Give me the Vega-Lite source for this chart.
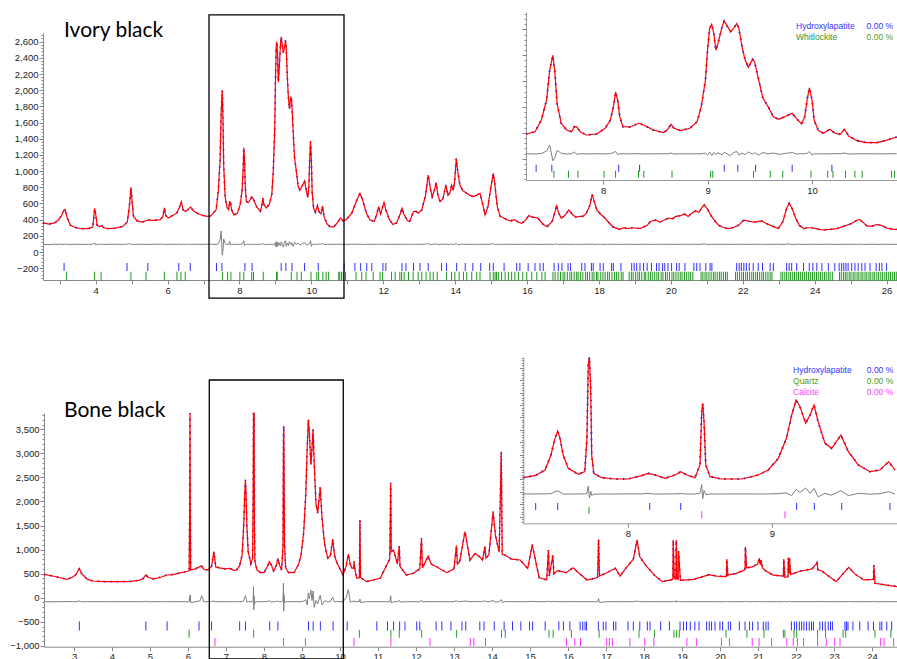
{
"$schema": "https://vega.github.io/schema/vega-lite/v6.json",
"width": 897, "height": 659, "padding": 0, "autosize": {"type": "none"}, "background": "white",
"config": {"view": {"stroke": null}, "axis": {"labelFont": "Liberation Sans", "labelFontSize": 9.5, "labelColor": "#222", "tickColor": "#888", "domainColor": "#888", "grid": false, "labelPadding": 1, "labelOverlap": false, "labelFlush": false}},
"datasets": {
"top": [
{"x":2.534,"y":360,"d":95},{"x":2.7,"y":345,"d":92},{"x":2.85,"y":360,"d":96},{"x":2.95,"y":390,"d":94},{"x":3.05,"y":450,"d":97},{"x":3.12,"y":520,"d":92},{"x":3.15,"y":527,"d":100},{"x":3.2,"y":430,"d":95},{"x":3.3,"y":330,"d":93},{"x":3.45,"y":300,"d":96},{"x":3.6,"y":288,"d":94},{"x":3.8,"y":290,"d":95},{"x":3.92,"y":310,"d":97},{"x":3.97,"y":540,"d":110},{"x":4.0,"y":470,"d":88},{"x":4.04,"y":330,"d":95},{"x":4.1,"y":315,"d":94},{"x":4.17,"y":325,"d":98},{"x":4.22,"y":300,"d":93},{"x":4.35,"y":288,"d":95},{"x":4.55,"y":295,"d":96},{"x":4.75,"y":315,"d":94},{"x":4.88,"y":370,"d":97},{"x":4.95,"y":620,"d":105},{"x":4.98,"y":800,"d":90},{"x":5.01,"y":640,"d":100},{"x":5.05,"y":440,"d":94},{"x":5.15,"y":385,"d":95},{"x":5.3,"y":370,"d":96},{"x":5.45,"y":395,"d":94},{"x":5.6,"y":392,"d":95},{"x":5.8,"y":400,"d":97},{"x":5.87,"y":440,"d":93},{"x":5.91,"y":545,"d":100},{"x":5.95,"y":450,"d":92},{"x":6.02,"y":420,"d":95},{"x":6.15,"y":455,"d":96},{"x":6.25,"y":480,"d":94},{"x":6.32,"y":540,"d":98},{"x":6.38,"y":620,"d":92},{"x":6.43,"y":520,"d":96},{"x":6.5,"y":500,"d":95},{"x":6.58,"y":530,"d":97},{"x":6.64,"y":555,"d":93},{"x":6.72,"y":510,"d":96},{"x":6.82,"y":478,"d":95},{"x":6.95,"y":455,"d":94},{"x":7.1,"y":440,"d":96},{"x":7.2,"y":445,"d":95},
{"x":7.263,"y":478,"d":97},{"x":7.35,"y":522,"d":92},{"x":7.41,"y":749,"d":100},{"x":7.46,"y":1136,"d":150},{"x":7.49,"y":1716,"d":260},{"x":7.52,"y":2000,"d":-40},{"x":7.54,"y":1652,"d":20},{"x":7.56,"y":1072,"d":160},{"x":7.6,"y":685,"d":105},{"x":7.65,"y":556,"d":90},{"x":7.7,"y":522,"d":96},{"x":7.725,"y":620,"d":130},{"x":7.75,"y":615,"d":85},{"x":7.78,"y":522,"d":95},{"x":7.84,"y":459,"d":93},{"x":7.94,"y":478,"d":96},{"x":8.02,"y":588,"d":94},{"x":8.07,"y":749,"d":98},{"x":8.1,"y":1006,"d":120},{"x":8.12,"y":1290,"d":140},{"x":8.14,"y":1136,"d":80},{"x":8.16,"y":813,"d":95},{"x":8.19,"y":620,"d":96},{"x":8.26,"y":613,"d":94},{"x":8.34,"y":685,"d":97},{"x":8.39,"y":652,"d":93},{"x":8.48,"y":556,"d":95},{"x":8.58,"y":505,"d":96},{"x":8.62,"y":569,"d":94},{"x":8.65,"y":665,"d":110},{"x":8.68,"y":588,"d":90},{"x":8.74,"y":543,"d":95},{"x":8.83,"y":588,"d":94},{"x":8.9,"y":717,"d":96},{"x":8.94,"y":1006,"d":93},{"x":8.98,"y":1522,"d":110},{"x":9.0,"y":2103,"d":70},{"x":9.02,"y":2522,"d":130},{"x":9.04,"y":2600,"d":60},{"x":9.06,"y":2425,"d":120},{"x":9.08,"y":2100,"d":80},{"x":9.1,"y":2232,"d":115},{"x":9.14,"y":2560,"d":75},{"x":9.16,"y":2660,"d":125},{"x":9.19,"y":2560,"d":90},{"x":9.22,"y":2460,"d":60},{"x":9.25,"y":2522,"d":120},{"x":9.28,"y":2615,"d":140},{"x":9.3,"y":2522,"d":70},{"x":9.33,"y":2166,"d":110},{"x":9.36,"y":1909,"d":80},{"x":9.39,"y":1768,"d":130},{"x":9.43,"y":1922,"d":90},{"x":9.45,"y":1877,"d":115},{"x":9.49,"y":1522,"d":70},{"x":9.53,"y":1168,"d":120},{"x":9.58,"y":1006,"d":95},{"x":9.63,"y":813,"d":110},{"x":9.68,"y":762,"d":85},{"x":9.74,"y":813,"d":100},{"x":9.81,"y":878,"d":120},{"x":9.85,"y":781,"d":90},{"x":9.9,"y":672,"d":95},{"x":9.93,"y":813,"d":96},{"x":9.955,"y":1168,"d":105},{"x":9.975,"y":1370,"d":140},{"x":10.0,"y":1136,"d":70},{"x":10.02,"y":749,"d":95},{"x":10.06,"y":543,"d":94},{"x":10.11,"y":492,"d":96},{"x":10.17,"y":569,"d":94},{"x":10.22,"y":492,"d":100},{"x":10.27,"y":472,"d":95},{"x":10.31,"y":569,"d":110},{"x":10.35,"y":440,"d":90},{"x":10.43,"y":349,"d":95},{"x":10.52,"y":311,"d":96},{"x":10.62,"y":311,"d":94},{"x":10.7,"y":349,"d":95},{"x":10.81,"y":420,"d":96},
{"x":10.88,"y":385,"d":95},{"x":10.97,"y":400,"d":94},{"x":11.12,"y":478,"d":96},{"x":11.27,"y":650,"d":95},{"x":11.35,"y":726,"d":97},{"x":11.42,"y":650,"d":93},{"x":11.53,"y":480,"d":95},{"x":11.63,"y":395,"d":96},{"x":11.75,"y":380,"d":94},{"x":11.82,"y":470,"d":95},{"x":11.87,"y":560,"d":98},{"x":11.92,"y":470,"d":93},{"x":11.97,"y":540,"d":96},{"x":12.02,"y":615,"d":97},{"x":12.07,"y":520,"d":94},{"x":12.17,"y":400,"d":95},{"x":12.27,"y":340,"d":96},{"x":12.37,"y":360,"d":94},{"x":12.47,"y":470,"d":95},{"x":12.52,"y":540,"d":97},{"x":12.57,"y":470,"d":94},{"x":12.67,"y":390,"d":95},{"x":12.73,"y":375,"d":96},{"x":12.84,"y":498,"d":94},{"x":12.9,"y":505,"d":95},{"x":12.97,"y":480,"d":96},{"x":13.07,"y":520,"d":94},{"x":13.17,"y":690,"d":97},{"x":13.25,"y":952,"d":105},{"x":13.31,"y":780,"d":90},{"x":13.36,"y":684,"d":95},{"x":13.42,"y":760,"d":96},{"x":13.47,"y":857,"d":100},{"x":13.52,"y":700,"d":92},{"x":13.58,"y":622,"d":95},{"x":13.66,"y":660,"d":96},{"x":13.74,"y":828,"d":97},{"x":13.8,"y":700,"d":93},{"x":13.86,"y":740,"d":95},{"x":13.9,"y":828,"d":97},{"x":13.95,"y":760,"d":94},{"x":13.99,"y":900,"d":96},{"x":14.03,"y":1158,"d":108},{"x":14.07,"y":1000,"d":88},{"x":14.13,"y":828,"d":95},{"x":14.21,"y":760,"d":96},{"x":14.32,"y":725,"d":94},{"x":14.41,"y":700,"d":95},{"x":14.51,"y":684,"d":96},{"x":14.59,"y":700,"d":94},{"x":14.69,"y":725,"d":95},{"x":14.76,"y":600,"d":96},{"x":14.83,"y":457,"d":94},{"x":14.91,"y":560,"d":95},{"x":15.0,"y":820,"d":98},{"x":15.06,"y":973,"d":104},{"x":15.1,"y":850,"d":90},{"x":15.17,"y":560,"d":95},{"x":15.25,"y":440,"d":96},{"x":15.35,"y":420,"d":94},{"x":15.45,"y":395,"d":95},{"x":15.55,"y":385,"d":96},{"x":15.65,"y":400,"d":94},{"x":15.75,"y":370,"d":95},{"x":15.85,"y":354,"d":96},{"x":15.95,"y":390,"d":94},{"x":16.05,"y":450,"d":95},{"x":16.15,"y":430,"d":96},{"x":16.3,"y":420,"d":94},{"x":16.45,"y":340,"d":95},{"x":16.56,"y":313,"d":96},{"x":16.7,"y":380,"d":94},{"x":16.79,"y":520,"d":97},{"x":16.82,"y":581,"d":100},{"x":16.87,"y":490,"d":92},{"x":16.95,"y":420,"d":95},{"x":17.05,"y":450,"d":96},{"x":17.16,"y":520,"d":94},{"x":17.25,"y":470,"d":95},{"x":17.35,"y":430,"d":96},{"x":17.46,"y":440,"d":94},{"x":17.55,"y":440,"d":95},{"x":17.65,"y":480,"d":96},{"x":17.75,"y":580,"d":94},{"x":17.81,"y":713,"d":100},{"x":17.87,"y":620,"d":92},{"x":17.94,"y":520,"d":95},{"x":18.04,"y":470,"d":96},{"x":18.14,"y":430,"d":94},{"x":18.24,"y":380,"d":95},{"x":18.39,"y":310,"d":96},{"x":18.57,"y":281,"d":94},{"x":18.69,"y":300,"d":95},{"x":18.79,"y":290,"d":96},{"x":18.94,"y":300,"d":94},{"x":19.14,"y":290,"d":95},{"x":19.34,"y":330,"d":96},{"x":19.44,"y":380,"d":94},{"x":19.58,"y":395,"d":95},{"x":19.69,"y":370,"d":96},{"x":19.79,"y":390,"d":94},{"x":19.94,"y":420,"d":95},{"x":20.04,"y":410,"d":96},{"x":20.14,"y":440,"d":94},{"x":20.27,"y":450,"d":95},{"x":20.38,"y":470,"d":96},{"x":20.48,"y":440,"d":94},{"x":20.58,"y":480,"d":95},{"x":20.68,"y":507,"d":96},{"x":20.78,"y":490,"d":94},{"x":20.88,"y":560,"d":97},{"x":20.93,"y":581,"d":100},{"x":21.03,"y":520,"d":93},{"x":21.13,"y":440,"d":95},{"x":21.23,"y":380,"d":96},{"x":21.33,"y":330,"d":94},{"x":21.48,"y":300,"d":95},{"x":21.59,"y":290,"d":96},{"x":21.73,"y":300,"d":94},{"x":21.88,"y":330,"d":95},{"x":22.03,"y":395,"d":96},{"x":22.17,"y":380,"d":94},{"x":22.32,"y":370,"d":95},{"x":22.52,"y":385,"d":96},{"x":22.67,"y":350,"d":94},{"x":22.82,"y":320,"d":95},{"x":22.99,"y":290,"d":96},{"x":23.12,"y":380,"d":94},{"x":23.22,"y":540,"d":97},{"x":23.29,"y":602,"d":100},{"x":23.37,"y":540,"d":93},{"x":23.47,"y":420,"d":95},{"x":23.57,"y":330,"d":96},{"x":23.7,"y":290,"d":94},{"x":23.82,"y":300,"d":95},{"x":23.92,"y":300,"d":96},{"x":24.07,"y":285,"d":94},{"x":24.2,"y":272,"d":95},{"x":24.42,"y":280,"d":96},{"x":24.62,"y":290,"d":94},{"x":24.82,"y":320,"d":95},{"x":25.01,"y":350,"d":96},{"x":25.16,"y":390,"d":94},{"x":25.25,"y":404,"d":97},{"x":25.36,"y":360,"d":93},{"x":25.46,"y":320,"d":95},{"x":25.61,"y":320,"d":96},{"x":25.71,"y":340,"d":94},{"x":25.86,"y":330,"d":95},{"x":26.01,"y":295,"d":96},{"x":26.2,"y":280,"d":94},{"x":26.29,"y":280,"d":95}
],
"bot": [
{"x":2.21,"y":486,"d":-83},{"x":2.5,"y":440,"d":-85},{"x":2.81,"y":382,"d":-80},{"x":2.95,"y":420,"d":-84},{"x":3.05,"y":480,"d":-82},{"x":3.14,"y":611,"d":-70},{"x":3.2,"y":500,"d":-86},{"x":3.35,"y":380,"d":-83},{"x":3.5,"y":347,"d":-82},{"x":3.8,"y":333,"d":-84},{"x":4.2,"y":333,"d":-83},{"x":4.5,"y":340,"d":-82},{"x":4.7,"y":360,"d":-84},{"x":4.82,"y":400,"d":-83},{"x":4.89,"y":472,"d":-75},{"x":4.96,"y":420,"d":-86},{"x":5.1,"y":390,"d":-83},{"x":5.3,"y":430,"d":-82},{"x":5.44,"y":472,"d":-84},{"x":5.6,"y":480,"d":-83},{"x":5.82,"y":520,"d":-82},{"x":5.94,"y":540,"d":-84},{"x":6.03,"y":561,"d":-83},{"x":6.045,"y":1900,"d":20},{"x":6.052,"y":3860,"d":-40},{"x":6.06,"y":1900,"d":60},{"x":6.07,"y":580,"d":-100},{"x":6.2,"y":600,"d":-83},{"x":6.31,"y":645,"d":-70},{"x":6.36,"y":660,"d":40},{"x":6.42,"y":590,"d":-90},{"x":6.53,"y":580,"d":-83},{"x":6.62,"y":650,"d":-80},{"x":6.68,"y":957,"d":-70},{"x":6.73,"y":640,"d":-85},{"x":6.83,"y":620,"d":-83},{"x":6.98,"y":600,"d":-82},{"x":7.1,"y":610,"d":-84},{"x":7.2,"y":570,"d":-83},
{"x":7.273,"y":574,"d":-82},{"x":7.354,"y":655,"d":-84},{"x":7.424,"y":883,"d":-80},{"x":7.465,"y":1488,"d":-70},{"x":7.493,"y":2160,"d":10},{"x":7.512,"y":2450,"d":40},{"x":7.528,"y":2160,"d":-10},{"x":7.55,"y":1488,"d":-90},{"x":7.585,"y":950,"d":-85},{"x":7.655,"y":708,"d":-83},{"x":7.7,"y":816,"d":-80},{"x":7.715,"y":2160,"d":-60},{"x":7.724,"y":5117,"d":230},{"x":7.732,"y":6500,"d":-250},{"x":7.741,"y":4176,"d":30},{"x":7.748,"y":1488,"d":-140},{"x":7.762,"y":749,"d":-95},{"x":7.817,"y":574,"d":-83},{"x":7.91,"y":520,"d":-84},{"x":8.0,"y":520,"d":-82},{"x":8.095,"y":655,"d":-80},{"x":8.14,"y":749,"d":-60},{"x":8.19,"y":682,"d":-90},{"x":8.257,"y":547,"d":-83},{"x":8.326,"y":682,"d":-80},{"x":8.366,"y":816,"d":-70},{"x":8.408,"y":682,"d":-85},{"x":8.465,"y":574,"d":-83},{"x":8.5,"y":1085,"d":-60},{"x":8.512,"y":3235,"d":300},{"x":8.519,"y":3571,"d":-280},{"x":8.528,"y":2832,"d":60},{"x":8.54,"y":1085,"d":-110},{"x":8.57,"y":614,"d":-84},{"x":8.65,"y":520,"d":-83},{"x":8.79,"y":520,"d":-82},{"x":8.905,"y":682,"d":-84},{"x":8.974,"y":883,"d":-83},{"x":9.044,"y":1354,"d":-70},{"x":9.1,"y":2160,"d":-40},{"x":9.137,"y":3101,"d":-150},{"x":9.167,"y":3706,"d":100},{"x":9.194,"y":3437,"d":-20},{"x":9.234,"y":2765,"d":160},{"x":9.264,"y":3101,"d":-60},{"x":9.292,"y":3504,"d":140},{"x":9.32,"y":2832,"d":-200},{"x":9.368,"y":1958,"d":-60},{"x":9.414,"y":1757,"d":-130},{"x":9.479,"y":2294,"d":50},{"x":9.53,"y":1622,"d":-150},{"x":9.6,"y":1085,"d":-60},{"x":9.68,"y":816,"d":-90},{"x":9.75,"y":883,"d":-75},{"x":9.81,"y":1219,"d":10},{"x":9.854,"y":883,"d":-90},
{"x":9.91,"y":741,"d":-80},{"x":10.08,"y":472,"d":-84},{"x":10.16,"y":650,"d":0},{"x":10.22,"y":908,"d":170},{"x":10.27,"y":700,"d":-90},{"x":10.31,"y":617,"d":-83},{"x":10.36,"y":620,"d":-82},{"x":10.37,"y":750,"d":-60},{"x":10.39,"y":600,"d":-85},{"x":10.44,"y":403,"d":-83},{"x":10.51,"y":420,"d":-82},{"x":10.525,"y":1615,"d":-30},{"x":10.54,"y":420,"d":-100},{"x":10.7,"y":333,"d":-83},{"x":11.06,"y":403,"d":-82},{"x":11.23,"y":680,"d":-84},{"x":11.31,"y":800,"d":-80},{"x":11.335,"y":2391,"d":40},{"x":11.35,"y":950,"d":-110},{"x":11.41,"y":991,"d":-83},{"x":11.51,"y":700,"d":-82},{"x":11.56,"y":1075,"d":-60},{"x":11.58,"y":650,"d":-90},{"x":11.75,"y":472,"d":-83},{"x":11.93,"y":507,"d":-82},{"x":12.1,"y":600,"d":-84},{"x":12.145,"y":1235,"d":-50},{"x":12.17,"y":620,"d":-90},{"x":12.32,"y":868,"d":-80},{"x":12.4,"y":700,"d":-83},{"x":12.54,"y":644,"d":-82},{"x":12.81,"y":520,"d":-84},{"x":13.0,"y":600,"d":-83},{"x":13.065,"y":1082,"d":-60},{"x":13.09,"y":700,"d":-85},{"x":13.15,"y":750,"d":-82},{"x":13.29,"y":1373,"d":-70},{"x":13.42,"y":784,"d":-84},{"x":13.56,"y":923,"d":-80},{"x":13.67,"y":853,"d":-83},{"x":13.75,"y":780,"d":-82},{"x":13.815,"y":1061,"d":-60},{"x":13.84,"y":820,"d":-85},{"x":13.92,"y":900,"d":-83},{"x":14.03,"y":1788,"d":-60},{"x":14.09,"y":1300,"d":-90},{"x":14.19,"y":950,"d":-83},{"x":14.245,"y":3036,"d":-40},{"x":14.27,"y":900,"d":-100},{"x":14.34,"y":888,"d":-83},{"x":14.52,"y":800,"d":-82},{"x":14.74,"y":784,"d":-84},{"x":14.94,"y":610,"d":-83},{"x":15.06,"y":1100,"d":-75},{"x":15.24,"y":420,"d":-84},{"x":15.44,"y":368,"d":-83},{"x":15.485,"y":991,"d":-70},{"x":15.51,"y":450,"d":-85},{"x":15.6,"y":880,"d":-75},{"x":15.63,"y":500,"d":-83},{"x":15.73,"y":560,"d":-82},{"x":15.95,"y":520,"d":-84},{"x":16.06,"y":580,"d":-83},{"x":16.13,"y":620,"d":-80},{"x":16.28,"y":520,"d":-83},{"x":16.5,"y":368,"d":-82},{"x":16.78,"y":420,"d":-84},{"x":16.805,"y":1214,"d":-20},{"x":16.83,"y":450,"d":-100},{"x":17.02,"y":520,"d":-83},{"x":17.25,"y":611,"d":-82},{"x":17.37,"y":450,"d":-84},{"x":17.54,"y":632,"d":-83},{"x":17.72,"y":800,"d":-82},{"x":17.82,"y":1200,"d":-70},{"x":17.89,"y":850,"d":-84},{"x":18.06,"y":660,"d":-83},{"x":18.26,"y":480,"d":-82},{"x":18.48,"y":333,"d":-84},{"x":18.76,"y":380,"d":-83},{"x":18.77,"y":1200,"d":-70},{"x":18.8,"y":400,"d":-84},{"x":18.84,"y":380,"d":-83},{"x":18.85,"y":1200,"d":-60},{"x":18.87,"y":400,"d":-95},{"x":18.9,"y":380,"d":-83},{"x":18.91,"y":970,"d":-75},{"x":18.96,"y":360,"d":-84},{"x":19.31,"y":380,"d":-83},{"x":19.72,"y":480,"d":-82},{"x":19.91,"y":450,"d":-84},{"x":20.17,"y":440,"d":-83},{"x":20.18,"y":805,"d":-75},{"x":20.21,"y":470,"d":-84},{"x":20.41,"y":500,"d":-83},{"x":20.66,"y":580,"d":-82},{"x":20.67,"y":1060,"d":-70},{"x":20.7,"y":620,"d":-84},{"x":20.85,"y":640,"d":-83},{"x":20.99,"y":700,"d":-82},{"x":21.04,"y":820,"d":-80},{"x":21.06,"y":680,"d":-84},{"x":21.08,"y":780,"d":-82},{"x":21.12,"y":620,"d":-83},{"x":21.2,"y":560,"d":-82},{"x":21.4,"y":470,"d":-84},{"x":21.67,"y":450,"d":-83},{"x":21.68,"y":805,"d":-75},{"x":21.71,"y":420,"d":-84},{"x":21.79,"y":440,"d":-83},{"x":21.8,"y":830,"d":-75},{"x":21.815,"y":500,"d":-84},{"x":21.83,"y":830,"d":-75},{"x":21.86,"y":480,"d":-83},{"x":22.1,"y":550,"d":-82},{"x":22.43,"y":600,"d":-84},{"x":22.555,"y":728,"d":-78},{"x":22.58,"y":580,"d":-83},{"x":22.69,"y":550,"d":-82},{"x":23.06,"y":333,"d":-84},{"x":23.24,"y":500,"d":-83},{"x":23.39,"y":632,"d":-80},{"x":23.54,"y":500,"d":-84},{"x":23.79,"y":370,"d":-83},{"x":24.04,"y":380,"d":-82},{"x":24.05,"y":680,"d":-75},{"x":24.08,"y":300,"d":-84},{"x":24.38,"y":263,"d":-83},{"x":24.66,"y":230,"d":-82}
],
"topHA": [{"x":3.12},{"x":4.87},{"x":5.45},{"x":6.31},{"x":6.63},{"x":7.36},{"x":7.51},{"x":8.15},{"x":8.35},{"x":9.16},{"x":9.29},{"x":9.46},{"x":9.81},{"x":10.19},{"x":10.91},{"x":11.21},{"x":11.37},{"x":11.54},{"x":11.68},{"x":11.99},{"x":12.07},{"x":12.52},{"x":12.63},{"x":12.84},{"x":13.02},{"x":13.25},{"x":13.62},{"x":13.76},{"x":14.04},{"x":14.28},{"x":14.49},{"x":14.71},{"x":14.96},{"x":15.06},{"x":15.36},{"x":15.71},{"x":15.8},{"x":16.03},{"x":16.22},{"x":16.36},{"x":16.45},{"x":16.75},{"x":16.87},{"x":16.97},{"x":17.14},{"x":17.21},{"x":17.52},{"x":17.61},{"x":17.79},{"x":17.84},{"x":18.03},{"x":18.12},{"x":18.35},{"x":18.4},{"x":18.61},{"x":18.91},{"x":18.98},{"x":19.05},{"x":19.14},{"x":19.24},{"x":19.34},{"x":19.46},{"x":19.6},{"x":19.67},{"x":19.77},{"x":19.83},{"x":19.92},{"x":20.02},{"x":20.16},{"x":20.23},{"x":20.39},{"x":20.64},{"x":20.72},{"x":20.81},{"x":20.97},{"x":21.09},{"x":21.14},{"x":21.83},{"x":21.9},{"x":21.96},{"x":22.03},{"x":22.1},{"x":22.18},{"x":22.29},{"x":22.43},{"x":22.55},{"x":22.76},{"x":22.85},{"x":23.22},{"x":23.29},{"x":23.36},{"x":23.5},{"x":23.69},{"x":23.85},{"x":23.95},{"x":24.06},{"x":24.2},{"x":24.38},{"x":24.56},{"x":24.68},{"x":24.75},{"x":24.81},{"x":24.87},{"x":24.93},{"x":25.03},{"x":25.12},{"x":25.21},{"x":25.31},{"x":25.4},{"x":25.54},{"x":25.71},{"x":25.8},{"x":25.87},{"x":26.0}],
"topW": [{"x":3.19},{"x":3.97},{"x":4.15},{"x":4.98},{"x":5.4},{"x":5.91},{"x":6.26},{"x":6.37},{"x":6.49},{"x":7.53},{"x":7.67},{"x":7.76},{"x":8.01},{"x":8.12},{"x":8.34},{"x":8.39},{"x":8.66},{"x":9.03},{"x":9.05},{"x":9.44},{"x":9.6},{"x":9.72},{"x":9.99},{"x":10.15},{"x":10.2},{"x":10.32},{"x":10.41},{"x":10.48},{"x":10.76},{"x":10.79},{"x":10.84},{"x":10.89},{"x":10.95},{"x":11.24},{"x":11.4},{"x":11.52},{"x":11.72},{"x":11.91},{"x":11.98},{"x":12.23},{"x":12.33},{"x":12.46},{"x":12.51},{"x":12.58},{"x":12.7},{"x":12.83},{"x":12.97},{"x":13.07},{"x":13.19},{"x":13.3},{"x":13.39},{"x":13.5},{"x":13.76},{"x":13.9},{"x":13.99},{"x":14.11},{"x":14.23},{"x":14.32},{"x":14.46},{"x":14.6},{"x":14.69},{"x":14.97},{"x":15.06},{"x":15.11},{"x":15.15},{"x":15.2},{"x":15.29},{"x":15.39},{"x":15.48},{"x":15.57},{"x":15.66},{"x":15.76},{"x":15.88},{"x":15.99},{"x":16.13},{"x":16.27},{"x":16.41},{"x":16.5},{"x":16.72},{"x":16.78},{"x":16.86},{"x":16.93},{"x":17.0},{"x":17.05},{"x":17.12},{"x":17.19},{"x":17.24},{"x":17.31},{"x":17.38},{"x":17.42},{"x":17.49},{"x":17.55},{"x":17.63},{"x":17.68},{"x":17.74},{"x":17.81},{"x":17.86},{"x":17.93},{"x":17.97},{"x":18.05},{"x":18.11},{"x":18.17},{"x":18.24},{"x":18.29},{"x":18.36},{"x":18.43},{"x":18.49},{"x":18.55},{"x":18.62},{"x":18.67},{"x":18.84},{"x":18.9},{"x":18.95},{"x":19.02},{"x":19.08},{"x":19.13},{"x":19.19},{"x":19.26},{"x":19.3},{"x":19.37},{"x":19.43},{"x":19.48},{"x":19.55},{"x":19.61},{"x":19.66},{"x":19.73},{"x":19.78},{"x":19.85},{"x":19.9},{"x":19.96},{"x":20.03},{"x":20.08},{"x":20.14},{"x":20.2},{"x":20.26},{"x":20.31},{"x":20.38},{"x":20.44},{"x":20.5},{"x":20.55},{"x":20.61},{"x":20.84},{"x":20.89},{"x":20.95},{"x":21.0},{"x":21.06},{"x":21.12},{"x":21.18},{"x":21.23},{"x":21.29},{"x":21.35},{"x":21.4},{"x":21.46},{"x":21.52},{"x":21.57},{"x":21.8},{"x":21.85},{"x":21.91},{"x":21.97},{"x":22.02},{"x":22.08},{"x":22.13},{"x":22.19},{"x":22.25},{"x":22.3},{"x":22.36},{"x":22.41},{"x":22.47},{"x":22.53},{"x":22.58},{"x":22.64},{"x":22.7},{"x":22.76},{"x":22.81},{"x":23.06},{"x":23.11},{"x":23.17},{"x":23.22},{"x":23.28},{"x":23.33},{"x":23.39},{"x":23.44},{"x":23.5},{"x":23.55},{"x":23.61},{"x":23.66},{"x":23.72},{"x":23.77},{"x":23.83},{"x":23.88},{"x":23.94},{"x":23.99},{"x":24.05},{"x":24.1},{"x":24.16},{"x":24.21},{"x":24.27},{"x":24.32},{"x":24.38},{"x":24.43},{"x":24.49},{"x":24.69},{"x":24.74},{"x":24.8},{"x":24.85},{"x":24.9},{"x":24.96},{"x":25.01},{"x":25.07},{"x":25.12},{"x":25.18},{"x":25.23},{"x":25.29},{"x":25.34},{"x":25.4},{"x":25.45},{"x":25.51},{"x":25.56},{"x":25.62},{"x":25.67},{"x":25.73},{"x":25.78},{"x":25.84},{"x":25.89},{"x":25.95},{"x":26.0},{"x":26.06},{"x":26.11},{"x":26.17},{"x":26.22},{"x":26.27}],
"botHA": [{"x":3.14},{"x":4.89},{"x":5.45},{"x":6.29},{"x":6.62},{"x":7.359},{"x":7.512},{"x":8.151},{"x":8.366},{"x":9.171},{"x":9.294},{"x":9.484},{"x":9.819},{"x":10.19},{"x":10.97},{"x":11.25},{"x":11.41},{"x":11.57},{"x":11.71},{"x":12.02},{"x":12.1},{"x":12.53},{"x":12.68},{"x":12.92},{"x":13.21},{"x":13.31},{"x":13.68},{"x":13.79},{"x":14.06},{"x":14.32},{"x":14.54},{"x":14.76},{"x":14.99},{"x":15.07},{"x":15.4},{"x":15.76},{"x":15.88},{"x":16.05},{"x":16.32},{"x":16.39},{"x":16.45},{"x":16.49},{"x":16.8},{"x":16.93},{"x":17.0},{"x":17.2},{"x":17.26},{"x":17.58},{"x":17.72},{"x":17.89},{"x":18.09},{"x":18.16},{"x":18.44},{"x":18.67},{"x":18.95},{"x":19.04},{"x":19.12},{"x":19.22},{"x":19.34},{"x":19.45},{"x":19.65},{"x":19.72},{"x":19.78},{"x":19.87},{"x":20.0},{"x":20.07},{"x":20.22},{"x":20.28},{"x":20.51},{"x":20.66},{"x":20.78},{"x":20.86},{"x":21.0},{"x":21.14},{"x":21.21},{"x":21.27},{"x":21.88},{"x":21.96},{"x":22.02},{"x":22.09},{"x":22.15},{"x":22.21},{"x":22.28},{"x":22.35},{"x":22.41},{"x":22.46},{"x":22.63},{"x":22.7},{"x":22.77},{"x":22.85},{"x":22.91},{"x":22.96},{"x":23.29},{"x":23.33},{"x":23.37},{"x":23.5},{"x":23.68},{"x":23.9},{"x":24.04},{"x":24.21},{"x":24.26},{"x":24.39},{"x":24.52}],
"botQ": [{"x":6.03},{"x":7.729},{"x":10.51},{"x":11.34},{"x":11.56},{"x":12.15},{"x":13.07},{"x":14.25},{"x":14.35},{"x":15.5},{"x":15.61},{"x":16.09},{"x":16.82},{"x":17.87},{"x":18.28},{"x":18.79},{"x":18.86},{"x":18.93},{"x":20.16},{"x":20.71},{"x":21.16},{"x":21.67},{"x":21.71},{"x":21.95},{"x":22.02},{"x":22.57},{"x":22.78},{"x":23.24},{"x":23.31},{"x":24.08},{"x":24.5}],
"botC": [{"x":6.71},{"x":8.512},{"x":9.09},{"x":10.37},{"x":11.34},{"x":12.37},{"x":13.43},{"x":13.52},{"x":13.83},{"x":15.96},{"x":16.18},{"x":16.33},{"x":17.02},{"x":17.09},{"x":17.17},{"x":17.63},{"x":18.02},{"x":18.26},{"x":19.13},{"x":19.38},{"x":20.04},{"x":20.25},{"x":20.85},{"x":21.03},{"x":21.36},{"x":21.76},{"x":21.93},{"x":22.04},{"x":22.2},{"x":22.57},{"x":22.8},{"x":23.02},{"x":23.16},{"x":24.23},{"x":24.32},{"x":24.57}]
},
"resolve": {"scale": {"x": "independent", "y": "independent"}, "axis": {"x": "independent", "y": "independent"}},
"layer": [
{"data": {"name": "top"}, "mark": {"type": "line", "color": "#808080", "strokeWidth": 1},
 "encoding": {"x": {"field": "x", "type": "quantitative", "scale": {"domain": [2.534, 26.29], "range": [43, 897], "nice": false, "zero": false}, "axis": null},
  "y": {"field": "d", "type": "quantitative", "scale": {"domain": [-346, 2707], "range": [280, 33], "nice": false, "zero": false}, "axis": {"orient": "left", "offset": -43, "title": null, "labels": false, "domain": false, "tickSize": 2, "values": [-320,-280,-240,-200,-160,-120,-80,-40,0,40,80,120,160,200,240,280,320,360,400,440,480,520,560,600,640,680,720,760,800,840,880,920,960,1000,1040,1080,1120,1160,1200,1240,1280,1320,1360,1400,1440,1480,1520,1560,1600,1640,1680,1720,1760,1800,1840,1880,1920,1960,2000,2040,2080,2120,2160,2200,2240,2280,2320,2360,2400,2440,2480,2520,2560,2600,2640,2680]}}}},
{"data": {"name": "top"}, "mark": {"type": "line", "color": "#1f1fff", "strokeWidth": 1.7, "strokeDash": [1.5, 5]},
 "encoding": {"x": {"field": "x", "type": "quantitative", "scale": {"domain": [2.534, 26.29], "range": [43, 897], "nice": false, "zero": false}, "axis": null},
  "y": {"field": "y", "type": "quantitative", "scale": {"domain": [-346, 2707], "range": [280, 33], "nice": false, "zero": false}, "axis": null}}},
{"data": {"name": "top"}, "mark": {"type": "line", "color": "#ff0000", "strokeWidth": 1.2},
 "encoding": {"x": {"field": "x", "type": "quantitative", "scale": {"domain": [2.534, 26.29], "range": [43, 897], "nice": false, "zero": false}, "axis": {"orient": "bottom", "offset": -379, "title": null, "tickSize": 4, "values": [3,4,5,6,7,8,9,10,11,12,13,14,15,16,17,18,19,20,21,22,23,24,25,26], "labelExpr": "datum.value % 2 === 0 ? datum.label : ''"}},
  "y": {"field": "y", "type": "quantitative", "scale": {"domain": [-346, 2707], "range": [280, 33], "nice": false, "zero": false}, "axis": {"orient": "left", "offset": -43, "title": null, "tickSize": 4, "format": ",d", "values": [-200,0,200,400,600,800,1000,1200,1400,1600,1800,2000,2200,2400,2600]}}}},
{"data": {"name": "topHA"}, "mark": {"type": "tick", "orient": "vertical", "size": 8, "thickness": 1, "color": "#3030ff", "opacity": 1},
 "encoding": {"x": {"field": "x", "type": "quantitative", "scale": {"domain": [2.534, 26.29], "range": [43, 897], "nice": false, "zero": false}, "axis": null},
  "y": {"datum": -185, "type": "quantitative", "scale": {"domain": [-346, 2707], "range": [280, 33], "nice": false, "zero": false}, "axis": null}}},
{"data": {"name": "topW"}, "mark": {"type": "tick", "orient": "vertical", "size": 9, "thickness": 1, "color": "#1e961e", "opacity": 1},
 "encoding": {"x": {"field": "x", "type": "quantitative", "scale": {"domain": [2.534, 26.29], "range": [43, 897], "nice": false, "zero": false}, "axis": null},
  "y": {"datum": -300, "type": "quantitative", "scale": {"domain": [-346, 2707], "range": [280, 33], "nice": false, "zero": false}, "axis": null}}},
{"data": {"values": [{}]}, "mark": {"type": "rect", "filled": false, "stroke": "#000", "strokeWidth": 1.3, "fillOpacity": 0},
 "encoding": {"x": {"datum": 7.152, "type": "quantitative", "scale": {"domain": [2.534, 26.29], "range": [43, 897], "nice": false, "zero": false}, "axis": null}, "x2": {"datum": 10.907},
  "y": {"datum": 2930, "type": "quantitative", "scale": {"domain": [-346, 2707], "range": [280, 33], "nice": false, "zero": false}, "axis": null}, "y2": {"datum": -569}}},
{"data": {"values": [{}]}, "mark": {"type": "text", "text": "Ivory black", "font": "Lato", "fontSize": 21, "align": "left", "baseline": "alphabetic", "color": "#000"},
 "encoding": {"x": {"datum": 3.118, "type": "quantitative", "scale": {"domain": [2.534, 26.29], "range": [43, 897], "nice": false, "zero": false}, "axis": null},
  "y": {"datum": 2654, "type": "quantitative", "scale": {"domain": [-346, 2707], "range": [280, 33], "nice": false, "zero": false}, "axis": null}}},

{"data": {"name": "top"}, "transform": [{"filter": {"field": "x", "range": [7.263, 10.813]}}], "mark": {"type": "line", "color": "#808080", "strokeWidth": 1},
 "encoding": {"x": {"field": "x", "type": "quantitative", "scale": {"domain": [7.263, 10.813], "range": [526, 897], "nice": false, "zero": false}, "axis": {"orient": "bottom", "offset": -479, "title": null, "tickSize": 4, "values": [8, 9, 10], "domainColor": "#999"}},
  "y": {"field": "d", "type": "quantitative", "scale": {"domain": [-412, 2838], "range": [180, 12], "nice": false, "zero": false, "clamp": true}, "axis": {"orient": "left", "offset": -526, "title": null, "labels": false, "tickSize": 4, "domainColor": "#999", "values": [0, 500, 1000, 1500, 2000, 2500]}}}},
{"data": {"name": "top"}, "transform": [{"filter": {"field": "x", "range": [7.263, 10.813]}}], "mark": {"type": "line", "color": "#1f1fff", "strokeWidth": 1.9, "strokeDash": [1.5, 5]},
 "encoding": {"x": {"field": "x", "type": "quantitative", "scale": {"domain": [7.263, 10.813], "range": [526, 897], "nice": false, "zero": false}, "axis": null},
  "y": {"field": "y", "type": "quantitative", "scale": {"domain": [-412, 2838], "range": [180, 12], "nice": false, "zero": false, "clamp": true}, "axis": {"orient": "left", "offset": -526, "title": null, "labels": false, "domain": false, "tickSize": 2, "values": [-400,-300,-200,-100,0,100,200,300,400,500,600,700,800,900,1000,1100,1200,1300,1400,1500,1600,1700,1800,1900,2000,2100,2200,2300,2400,2500,2600,2700,2800]}}}},
{"data": {"name": "top"}, "transform": [{"filter": {"field": "x", "range": [7.263, 10.813]}}], "mark": {"type": "line", "color": "#ff0000", "strokeWidth": 1.2},
 "encoding": {"x": {"field": "x", "type": "quantitative", "scale": {"domain": [7.263, 10.813], "range": [526, 897], "nice": false, "zero": false}, "axis": null},
  "y": {"field": "y", "type": "quantitative", "scale": {"domain": [-412, 2838], "range": [180, 12], "nice": false, "zero": false, "clamp": true}, "axis": null}}},
{"data": {"name": "topHA"}, "transform": [{"filter": {"field": "x", "range": [7.263, 10.813]}}], "mark": {"type": "tick", "orient": "vertical", "size": 7, "thickness": 1, "color": "#3030ff", "opacity": 1},
 "encoding": {"x": {"field": "x", "type": "quantitative", "scale": {"domain": [7.263, 10.813], "range": [526, 897], "nice": false, "zero": false}, "axis": null},
  "y": {"datum": -185, "type": "quantitative", "scale": {"domain": [-412, 2838], "range": [180, 12], "nice": false, "zero": false, "clamp": true}, "axis": null}}},
{"data": {"name": "topW"}, "transform": [{"filter": {"field": "x", "range": [7.263, 10.813]}}], "mark": {"type": "tick", "orient": "vertical", "size": 7, "thickness": 1, "color": "#1e961e", "opacity": 1},
 "encoding": {"x": {"field": "x", "type": "quantitative", "scale": {"domain": [7.263, 10.813], "range": [526, 897], "nice": false, "zero": false}, "axis": null},
  "y": {"datum": -300, "type": "quantitative", "scale": {"domain": [-412, 2838], "range": [180, 12], "nice": false, "zero": false, "clamp": true}, "axis": null}}},
{"data": {"values": [{}]}, "mark": {"type": "text", "text": "Hydroxylapatite", "font": "Liberation Sans", "fontSize": 8.5, "align": "left", "baseline": "middle", "color": "#3333ff"},
 "encoding": {"x": {"datum": 9.847, "type": "quantitative", "scale": {"domain": [7.263, 10.813], "range": [526, 897], "nice": false, "zero": false}, "axis": null},
  "y": {"datum": 2573, "type": "quantitative", "scale": {"domain": [-412, 2838], "range": [180, 12], "nice": false, "zero": false}, "axis": null}}},
{"data": {"values": [{}]}, "mark": {"type": "text", "text": "0.00 %", "font": "Liberation Sans", "fontSize": 8.5, "align": "right", "baseline": "middle", "color": "#3333ff"},
 "encoding": {"x": {"datum": 10.775, "type": "quantitative", "scale": {"domain": [7.263, 10.813], "range": [526, 897], "nice": false, "zero": false}, "axis": null},
  "y": {"datum": 2573, "type": "quantitative", "scale": {"domain": [-412, 2838], "range": [180, 12], "nice": false, "zero": false}, "axis": null}}},
{"data": {"values": [{}]}, "mark": {"type": "text", "text": "Whitlockite", "font": "Liberation Sans", "fontSize": 8.5, "align": "left", "baseline": "middle", "color": "#2e962e"},
 "encoding": {"x": {"datum": 9.847, "type": "quantitative", "scale": {"domain": [7.263, 10.813], "range": [526, 897], "nice": false, "zero": false}, "axis": null},
  "y": {"datum": 2360, "type": "quantitative", "scale": {"domain": [-412, 2838], "range": [180, 12], "nice": false, "zero": false}, "axis": null}}},
{"data": {"values": [{}]}, "mark": {"type": "text", "text": "0.00 %", "font": "Liberation Sans", "fontSize": 8.5, "align": "right", "baseline": "middle", "color": "#5a9a20"},
 "encoding": {"x": {"datum": 10.775, "type": "quantitative", "scale": {"domain": [7.263, 10.813], "range": [526, 897], "nice": false, "zero": false}, "axis": null},
  "y": {"datum": 2360, "type": "quantitative", "scale": {"domain": [-412, 2838], "range": [180, 12], "nice": false, "zero": false}, "axis": null}}},

{"data": {"name": "bot"}, "mark": {"type": "line", "color": "#808080", "strokeWidth": 1},
 "encoding": {"x": {"field": "x", "type": "quantitative", "scale": {"domain": [2.21, 24.66], "range": [44, 897], "nice": false, "zero": false}, "axis": null},
  "y": {"field": "d", "type": "quantitative", "scale": {"domain": [-1019, 3840], "range": [646.7, 413], "nice": false, "zero": false, "clamp": true}, "axis": {"orient": "left", "offset": -44, "title": null, "labels": false, "domain": false, "tickSize": 2, "values": [-1000,-900,-800,-700,-600,-500,-400,-300,-200,-100,0,100,200,300,400,500,600,700,800,900,1000,1100,1200,1300,1400,1500,1600,1700,1800,1900,2000,2100,2200,2300,2400,2500,2600,2700,2800,2900,3000,3100,3200,3300,3400,3500,3600,3700,3800]}}}},
{"data": {"name": "bot"}, "mark": {"type": "line", "color": "#1f1fff", "strokeWidth": 1.7, "strokeDash": [1.5, 5]},
 "encoding": {"x": {"field": "x", "type": "quantitative", "scale": {"domain": [2.21, 24.66], "range": [44, 897], "nice": false, "zero": false}, "axis": null},
  "y": {"field": "y", "type": "quantitative", "scale": {"domain": [-1019, 3840], "range": [646.7, 413], "nice": false, "zero": false, "clamp": true}, "axis": null}}},
{"data": {"name": "bot"}, "mark": {"type": "line", "color": "#ff0000", "strokeWidth": 1.2},
 "encoding": {"x": {"field": "x", "type": "quantitative", "scale": {"domain": [2.21, 24.66], "range": [44, 897], "nice": false, "zero": false}, "axis": {"orient": "bottom", "offset": -12.3, "title": null, "tickSize": 4, "values": [3,4,5,6,7,8,9,10,11,12,13,14,15,16,17,18,19,20,21,22,23,24]}},
  "y": {"field": "y", "type": "quantitative", "scale": {"domain": [-1019, 3840], "range": [646.7, 413], "nice": false, "zero": false, "clamp": true}, "axis": {"orient": "left", "offset": -44, "title": null, "tickSize": 4, "format": ",d", "values": [-1000,-500,0,500,1000,1500,2000,2500,3000,3500]}}}},
{"data": {"name": "botHA"}, "mark": {"type": "tick", "orient": "vertical", "size": 9, "thickness": 1, "color": "#3030ff", "opacity": 1},
 "encoding": {"x": {"field": "x", "type": "quantitative", "scale": {"domain": [2.21, 24.66], "range": [44, 897], "nice": false, "zero": false}, "axis": null},
  "y": {"datum": -590, "type": "quantitative", "scale": {"domain": [-1019, 3840], "range": [646.7, 413], "nice": false, "zero": false, "clamp": true}, "axis": null}}},
{"data": {"name": "botQ"}, "mark": {"type": "tick", "orient": "vertical", "size": 8, "thickness": 1, "color": "#2a9a2a", "opacity": 1},
 "encoding": {"x": {"field": "x", "type": "quantitative", "scale": {"domain": [2.21, 24.66], "range": [44, 897], "nice": false, "zero": false}, "axis": null},
  "y": {"datum": -750, "type": "quantitative", "scale": {"domain": [-1019, 3840], "range": [646.7, 413], "nice": false, "zero": false, "clamp": true}, "axis": null}}},
{"data": {"name": "botC"}, "mark": {"type": "tick", "orient": "vertical", "size": 8, "thickness": 1, "color": "#ff33ff", "opacity": 1},
 "encoding": {"x": {"field": "x", "type": "quantitative", "scale": {"domain": [2.21, 24.66], "range": [44, 897], "nice": false, "zero": false}, "axis": null},
  "y": {"datum": -920, "type": "quantitative", "scale": {"domain": [-1019, 3840], "range": [646.7, 413], "nice": false, "zero": false, "clamp": true}, "axis": null}}},
{"data": {"values": [{}]}, "mark": {"type": "rect", "filled": false, "stroke": "#000", "strokeWidth": 1.3, "fillOpacity": 0},
 "encoding": {"x": {"datum": 6.56, "type": "quantitative", "scale": {"domain": [2.21, 24.66], "range": [44, 897], "nice": false, "zero": false}, "axis": null}, "x2": {"datum": 10.087},
  "y": {"datum": 4526, "type": "quantitative", "scale": {"domain": [-1019, 3840], "range": [646.7, 413], "nice": false, "zero": false}, "axis": null}, "y2": {"datum": -1274}}},
{"data": {"values": [{}]}, "mark": {"type": "text", "text": "Bone black", "font": "Lato", "fontSize": 21, "align": "left", "baseline": "alphabetic", "color": "#000"},
 "encoding": {"x": {"datum": 2.736, "type": "quantitative", "scale": {"domain": [2.21, 24.66], "range": [44, 897], "nice": false, "zero": false}, "axis": null},
  "y": {"datum": 3750, "type": "quantitative", "scale": {"domain": [-1019, 3840], "range": [646.7, 413], "nice": false, "zero": false}, "axis": null}}},

{"data": {"name": "bot"}, "transform": [{"filter": {"field": "x", "range": [7.273, 9.868]}}], "mark": {"type": "line", "color": "#808080", "strokeWidth": 1},
 "encoding": {"x": {"field": "x", "type": "quantitative", "scale": {"domain": [7.273, 9.868], "range": [523.3, 897], "nice": false, "zero": false}, "axis": {"orient": "bottom", "offset": -135.7, "title": null, "tickSize": 4, "values": [8, 9], "domainColor": "#999"}},
  "y": {"field": "d", "type": "quantitative", "scale": {"domain": [-1266, 5439], "range": [523.3, 357], "nice": false, "zero": false, "clamp": true}, "axis": {"orient": "left", "offset": -523.3, "title": null, "labels": false, "tickSize": 4, "domainColor": "#999", "values": [-1000,-500,0,500,1000,1500,2000,2500,3000,3500,4000,4500,5000]}}}},
{"data": {"name": "bot"}, "transform": [{"filter": {"field": "x", "range": [7.273, 9.868]}}], "mark": {"type": "line", "color": "#1f1fff", "strokeWidth": 1.9, "strokeDash": [1.5, 5]},
 "encoding": {"x": {"field": "x", "type": "quantitative", "scale": {"domain": [7.273, 9.868], "range": [523.3, 897], "nice": false, "zero": false}, "axis": null},
  "y": {"field": "y", "type": "quantitative", "scale": {"domain": [-1266, 5439], "range": [523.3, 357], "nice": false, "zero": false, "clamp": true}, "axis": {"orient": "left", "offset": -523.3, "title": null, "labels": false, "domain": false, "tickSize": 2, "values": [-1200,-1100,-1000,-900,-800,-700,-600,-500,-400,-300,-200,-100,0,100,200,300,400,500,600,700,800,900,1000,1100,1200,1300,1400,1500,1600,1700,1800,1900,2000,2100,2200,2300,2400,2500,2600,2700,2800,2900,3000,3100,3200,3300,3400,3500,3600,3700,3800,3900,4000,4100,4200,4300,4400,4500,4600,4700,4800,4900,5000,5100,5200,5300,5400]}}}},
{"data": {"name": "bot"}, "transform": [{"filter": {"field": "x", "range": [7.273, 9.868]}}], "mark": {"type": "line", "color": "#ff0000", "strokeWidth": 1.2},
 "encoding": {"x": {"field": "x", "type": "quantitative", "scale": {"domain": [7.273, 9.868], "range": [523.3, 897], "nice": false, "zero": false}, "axis": null},
  "y": {"field": "y", "type": "quantitative", "scale": {"domain": [-1266, 5439], "range": [523.3, 357], "nice": false, "zero": false, "clamp": true}, "axis": null}}},
{"data": {"name": "botHA"}, "transform": [{"filter": {"field": "x", "range": [7.273, 9.868]}}], "mark": {"type": "tick", "orient": "vertical", "size": 7, "thickness": 1, "color": "#3030ff", "opacity": 1},
 "encoding": {"x": {"field": "x", "type": "quantitative", "scale": {"domain": [7.273, 9.868], "range": [523.3, 897], "nice": false, "zero": false}, "axis": null},
  "y": {"datum": -590, "type": "quantitative", "scale": {"domain": [-1266, 5439], "range": [523.3, 357], "nice": false, "zero": false, "clamp": true}, "axis": null}}},
{"data": {"name": "botQ"}, "transform": [{"filter": {"field": "x", "range": [7.273, 9.868]}}], "mark": {"type": "tick", "orient": "vertical", "size": 7, "thickness": 1, "color": "#2a9a2a", "opacity": 1},
 "encoding": {"x": {"field": "x", "type": "quantitative", "scale": {"domain": [7.273, 9.868], "range": [523.3, 897], "nice": false, "zero": false}, "axis": null},
  "y": {"datum": -750, "type": "quantitative", "scale": {"domain": [-1266, 5439], "range": [523.3, 357], "nice": false, "zero": false, "clamp": true}, "axis": null}}},
{"data": {"name": "botC"}, "transform": [{"filter": {"field": "x", "range": [7.273, 9.868]}}], "mark": {"type": "tick", "orient": "vertical", "size": 7, "thickness": 1, "color": "#ff33ff", "opacity": 1},
 "encoding": {"x": {"field": "x", "type": "quantitative", "scale": {"domain": [7.273, 9.868], "range": [523.3, 897], "nice": false, "zero": false}, "axis": null},
  "y": {"datum": -920, "type": "quantitative", "scale": {"domain": [-1266, 5439], "range": [523.3, 357], "nice": false, "zero": false, "clamp": true}, "axis": null}}},
{"data": {"values": [{}]}, "mark": {"type": "text", "text": "Hydroxylapatite", "font": "Liberation Sans", "fontSize": 8.5, "align": "left", "baseline": "middle", "color": "#3333ff"},
 "encoding": {"x": {"datum": 9.146, "type": "quantitative", "scale": {"domain": [7.273, 9.868], "range": [523.3, 897], "nice": false, "zero": false}, "axis": null},
  "y": {"datum": 4915, "type": "quantitative", "scale": {"domain": [-1266, 5439], "range": [523.3, 357], "nice": false, "zero": false}, "axis": null}}},
{"data": {"values": [{}]}, "mark": {"type": "text", "text": "0.00 %", "font": "Liberation Sans", "fontSize": 8.5, "align": "right", "baseline": "middle", "color": "#3333ff"},
 "encoding": {"x": {"datum": 9.842, "type": "quantitative", "scale": {"domain": [7.273, 9.868], "range": [523.3, 897], "nice": false, "zero": false}, "axis": null},
  "y": {"datum": 4915, "type": "quantitative", "scale": {"domain": [-1266, 5439], "range": [523.3, 357], "nice": false, "zero": false}, "axis": null}}},
{"data": {"values": [{}]}, "mark": {"type": "text", "text": "Quartz", "font": "Liberation Sans", "fontSize": 8.5, "align": "left", "baseline": "middle", "color": "#4e9a22"},
 "encoding": {"x": {"datum": 9.146, "type": "quantitative", "scale": {"domain": [7.273, 9.868], "range": [523.3, 897], "nice": false, "zero": false}, "axis": null},
  "y": {"datum": 4484, "type": "quantitative", "scale": {"domain": [-1266, 5439], "range": [523.3, 357], "nice": false, "zero": false}, "axis": null}}},
{"data": {"values": [{}]}, "mark": {"type": "text", "text": "0.00 %", "font": "Liberation Sans", "fontSize": 8.5, "align": "right", "baseline": "middle", "color": "#4e9a22"},
 "encoding": {"x": {"datum": 9.842, "type": "quantitative", "scale": {"domain": [7.273, 9.868], "range": [523.3, 897], "nice": false, "zero": false}, "axis": null},
  "y": {"datum": 4484, "type": "quantitative", "scale": {"domain": [-1266, 5439], "range": [523.3, 357], "nice": false, "zero": false}, "axis": null}}},
{"data": {"values": [{}]}, "mark": {"type": "text", "text": "Calcite", "font": "Liberation Sans", "fontSize": 8.5, "align": "left", "baseline": "middle", "color": "#ff40ff"},
 "encoding": {"x": {"datum": 9.146, "type": "quantitative", "scale": {"domain": [7.273, 9.868], "range": [523.3, 897], "nice": false, "zero": false}, "axis": null},
  "y": {"datum": 4040, "type": "quantitative", "scale": {"domain": [-1266, 5439], "range": [523.3, 357], "nice": false, "zero": false}, "axis": null}}},
{"data": {"values": [{}]}, "mark": {"type": "text", "text": "0.00 %", "font": "Liberation Sans", "fontSize": 8.5, "align": "right", "baseline": "middle", "color": "#ff40ff"},
 "encoding": {"x": {"datum": 9.842, "type": "quantitative", "scale": {"domain": [7.273, 9.868], "range": [523.3, 897], "nice": false, "zero": false}, "axis": null},
  "y": {"datum": 4040, "type": "quantitative", "scale": {"domain": [-1266, 5439], "range": [523.3, 357], "nice": false, "zero": false}, "axis": null}}}
]
}
